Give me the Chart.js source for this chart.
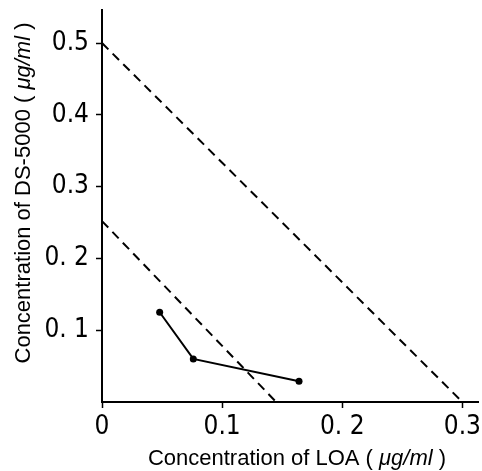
<!DOCTYPE html>
<html>
<head>
<meta charset="utf-8">
<script src="https://cdn.jsdelivr.net/npm/chart.js@4.4.1/dist/chart.umd.min.js"></script>
<style>
  html, body { margin: 0; padding: 0; background: #fff; }
  #wrap { width: 482px; height: 471px; }
</style>
</head>
<body>
<div id="wrap"><canvas id="chart" width="482" height="471"></canvas></div>
<script>
// measured series (LOA, DS-5000)
const loaValues = [0.048, 0.076, 0.164];
const dsValues = [0.125, 0.06, 0.029];

// isobole lines
const isoboleA = [[0, 0.5], [0.3, 0]];
const isoboleB = [[0, 0.252], [0.145, 0]];

// ticks
const xTicks = [0, 0.1, 0.2, 0.3];
const xTickLabels = ['0', '0.1', '0. 2', '0.3'];
const yTicks = [0.1, 0.2, 0.3, 0.4, 0.5];
const yTickLabels = ['0. 1', '0. 2', '0.3', '0.4', '0.5'];

const tickFont = { family: "'Liberation Sans Narrow', 'DejaVu Sans Condensed', sans-serif", size: 26 };
const titleFamily = "'Liberation Sans', Arial, sans-serif";

const toPoints = (xs, ys) => xs.map((x, i) => ({ x, y: ys[i] }));
const pairPoints = (pairs) => pairs.map((p) => ({ x: p[0], y: p[1] }));

// axis titles with italic unit
const axisTitles = {
  id: 'axisTitles',
  afterDraw(c) {
    const ctx = c.ctx;
    const parts = (name) => [
      { t: 'Concentration of ' + name + ' ( ', it: false },
      { t: 'μg/ml', it: true },
      { t: ' )', it: false },
    ];
    const drawParts = (list, cx, cy) => {
      let w = 0;
      list.forEach((p) => {
        ctx.font = (p.it ? 'italic ' : '') + '22px ' + titleFamily;
        p.w = ctx.measureText(p.t).width;
        w += p.w;
      });
      let x = cx - w / 2;
      list.forEach((p) => {
        ctx.font = (p.it ? 'italic ' : '') + '22px ' + titleFamily;
        ctx.fillText(p.t, x, cy);
        x += p.w;
      });
    };
    ctx.save();
    ctx.fillStyle = '#000';
    ctx.textBaseline = 'middle';
    drawParts(parts('LOA'), 297, 459);
    ctx.translate(24, 193);
    ctx.rotate(-Math.PI / 2);
    drawParts(parts('DS-5000'), 0, 0);
    ctx.restore();
  },
};

const ctx = document.getElementById('chart');
const chart = new Chart(ctx, {
  type: 'scatter',
  data: {
    datasets: [
      {
        data: pairPoints(isoboleA),
        showLine: true,
        borderColor: '#000',
        borderWidth: 2,
        borderDash: [9, 6],
        pointRadius: 0,
      },
      {
        data: pairPoints(isoboleB),
        showLine: true,
        borderColor: '#000',
        borderWidth: 2,
        borderDash: [9, 6],
        pointRadius: 0,
      },
      {
        data: toPoints(loaValues, dsValues),
        showLine: true,
        borderColor: '#000',
        borderWidth: 2,
        pointRadius: 3.5,
        pointBackgroundColor: '#000',
        pointBorderWidth: 0,
      },
    ],
  },
  options: {
    responsive: false,
    animation: false,
    layout: { padding: { top: 10, right: 4, left: 0, bottom: 0 } },
    plugins: {
      legend: { display: false },
      tooltip: { enabled: false },
    },
    scales: {
      x: {
        type: 'linear',
        min: 0,
        max: 0.313,
        afterBuildTicks: (s) => { s.ticks = xTicks.map((v) => ({ value: v })); },
        afterFit: (s) => { s.height = 69; s.paddingRight = 0; s.paddingLeft = 0; },
        ticks: {
          color: '#000',
          font: tickFont,
          padding: 4,
          maxRotation: 0,
          callback: (v) => xTickLabels[xTicks.findIndex((t) => Math.abs(t - v) < 1e-9)],
        },
        grid: { drawOnChartArea: false, color: '#000', tickLength: 6, tickWidth: 1.5 },
        border: { color: '#000', width: 2 },
        title: { display: false },
      },
      y: {
        type: 'linear',
        min: 0,
        max: 0.546,
        afterBuildTicks: (s) => { s.ticks = yTicks.map((v) => ({ value: v })); },
        afterFit: (s) => { s.width = 102; s.paddingTop = 0; s.paddingBottom = 0; },
        ticks: {
          color: '#000',
          font: tickFont,
          padding: 7,
          callback: (v) => yTickLabels[yTicks.findIndex((t) => Math.abs(t - v) < 1e-9)],
        },
        grid: { drawOnChartArea: false, color: '#000', tickLength: 6, tickWidth: 1.5 },
        border: { color: '#000', width: 2 },
        title: { display: false },
      },
    },
  },
  plugins: [axisTitles],
});
</script>
</body>
</html>
